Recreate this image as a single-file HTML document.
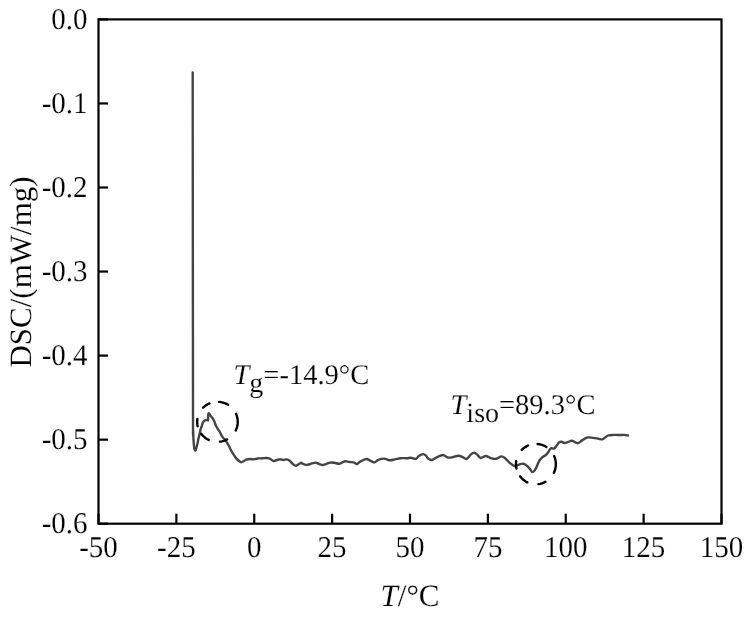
<!DOCTYPE html>
<html><head><meta charset="utf-8"><style>
html,body{margin:0;padding:0;background:#fff;width:751px;height:619px;overflow:hidden}
svg{position:absolute;left:0;top:0;will-change:transform}
text{font-family:"Liberation Serif",serif;font-size:29px;fill:#000;text-rendering:geometricPrecision;stroke:#fff;stroke-width:0.15px}
</style></head><body>
<svg width="751" height="619" viewBox="0 0 751 619">
<rect x="98.5" y="19.4" width="623.0" height="504.30000000000007" fill="none" stroke="#000" stroke-width="2.2"/>
<line x1="98.5" y1="19.40" x2="108.0" y2="19.40" stroke="#000" stroke-width="2.2"/>
<text transform="translate(87.6,28.60) scale(1,1.04)" text-anchor="end">0.0</text>
<line x1="98.5" y1="103.45" x2="108.0" y2="103.45" stroke="#000" stroke-width="2.2"/>
<text transform="translate(87.6,112.65) scale(1,1.04)" text-anchor="end">-0.1</text>
<line x1="98.5" y1="187.50" x2="108.0" y2="187.50" stroke="#000" stroke-width="2.2"/>
<text transform="translate(87.6,196.70) scale(1,1.04)" text-anchor="end">-0.2</text>
<line x1="98.5" y1="271.55" x2="108.0" y2="271.55" stroke="#000" stroke-width="2.2"/>
<text transform="translate(87.6,280.75) scale(1,1.04)" text-anchor="end">-0.3</text>
<line x1="98.5" y1="355.60" x2="108.0" y2="355.60" stroke="#000" stroke-width="2.2"/>
<text transform="translate(87.6,364.80) scale(1,1.04)" text-anchor="end">-0.4</text>
<line x1="98.5" y1="439.65" x2="108.0" y2="439.65" stroke="#000" stroke-width="2.2"/>
<text transform="translate(87.6,448.85) scale(1,1.04)" text-anchor="end">-0.5</text>
<line x1="98.5" y1="523.70" x2="108.0" y2="523.70" stroke="#000" stroke-width="2.2"/>
<text transform="translate(87.6,532.90) scale(1,1.04)" text-anchor="end">-0.6</text>
<line x1="98.50" y1="523.7" x2="98.50" y2="513.7" stroke="#000" stroke-width="2.2"/>
<text transform="translate(98.50,557.0) scale(1,1.04)" text-anchor="middle">-50</text>
<line x1="176.38" y1="523.7" x2="176.38" y2="513.7" stroke="#000" stroke-width="2.2"/>
<text transform="translate(176.38,557.0) scale(1,1.04)" text-anchor="middle">-25</text>
<line x1="254.25" y1="523.7" x2="254.25" y2="513.7" stroke="#000" stroke-width="2.2"/>
<text transform="translate(254.25,557.0) scale(1,1.04)" text-anchor="middle">0</text>
<line x1="332.12" y1="523.7" x2="332.12" y2="513.7" stroke="#000" stroke-width="2.2"/>
<text transform="translate(332.12,557.0) scale(1,1.04)" text-anchor="middle">25</text>
<line x1="410.00" y1="523.7" x2="410.00" y2="513.7" stroke="#000" stroke-width="2.2"/>
<text transform="translate(410.00,557.0) scale(1,1.04)" text-anchor="middle">50</text>
<line x1="487.88" y1="523.7" x2="487.88" y2="513.7" stroke="#000" stroke-width="2.2"/>
<text transform="translate(487.88,557.0) scale(1,1.04)" text-anchor="middle">75</text>
<line x1="565.75" y1="523.7" x2="565.75" y2="513.7" stroke="#000" stroke-width="2.2"/>
<text transform="translate(565.75,557.0) scale(1,1.04)" text-anchor="middle">100</text>
<line x1="643.62" y1="523.7" x2="643.62" y2="513.7" stroke="#000" stroke-width="2.2"/>
<text transform="translate(643.62,557.0) scale(1,1.04)" text-anchor="middle">125</text>
<line x1="721.50" y1="523.7" x2="721.50" y2="513.7" stroke="#000" stroke-width="2.2"/>
<text transform="translate(721.50,557.0) scale(1,1.04)" text-anchor="middle">150</text>
<path d="M192.70,72.40 C192.72,103.67 192.80,202.07 192.85,260.00 C192.90,317.93 192.94,391.45 193.00,420.00 C193.06,448.55 193.12,428.00 193.20,431.30 C193.28,434.60 193.36,437.25 193.50,439.80 C193.64,442.35 193.87,445.02 194.05,446.60 C194.23,448.18 194.41,448.65 194.60,449.30 C194.79,449.95 195.00,450.40 195.20,450.50 C195.40,450.60 195.62,450.27 195.80,449.90 C195.98,449.53 196.03,449.32 196.30,448.30 C196.57,447.28 197.02,445.50 197.40,443.80 C197.78,442.10 198.17,440.00 198.60,438.10 C199.03,436.20 199.67,433.88 200.00,432.40 C200.33,430.92 200.32,430.22 200.60,429.20 C200.88,428.18 201.30,427.47 201.70,426.30 C202.10,425.13 202.50,423.18 203.00,422.20 C203.50,421.22 204.10,420.77 204.70,420.40 C205.30,420.03 206.05,420.03 206.60,420.00 C207.15,419.97 207.75,420.77 208.00,420.20 C208.25,419.63 208.05,417.67 208.10,416.60 C208.15,415.53 208.13,414.32 208.30,413.80 C208.47,413.28 208.73,413.18 209.10,413.50 C209.47,413.82 210.02,415.02 210.50,415.70 C210.98,416.38 211.55,417.03 212.00,417.60 C212.45,418.17 212.80,418.45 213.20,419.10 C213.60,419.75 213.97,420.45 214.40,421.50 C214.83,422.55 215.23,424.18 215.80,425.40 C216.37,426.62 217.07,427.57 217.80,428.80 C218.53,430.03 219.42,431.47 220.20,432.80 C220.98,434.13 221.67,435.57 222.50,436.80 C223.33,438.03 224.43,439.20 225.20,440.20 C225.97,441.20 226.45,441.78 227.10,442.80 C227.75,443.82 228.40,444.97 229.10,446.30 C229.80,447.63 230.55,449.40 231.30,450.80 C232.05,452.20 232.73,453.40 233.60,454.70 C234.47,456.00 235.53,457.52 236.50,458.60 C237.47,459.68 238.60,460.60 239.40,461.20 C240.20,461.80 240.60,462.20 241.30,462.20 C242.00,462.20 242.78,461.62 243.60,461.20 C244.42,460.78 245.10,460.07 246.20,459.70 C247.30,459.33 248.93,459.05 250.20,459.00 C251.47,458.95 252.60,459.48 253.80,459.40 C255.00,459.32 256.20,458.67 257.40,458.50 C258.60,458.33 259.80,458.47 261.00,458.40 C262.20,458.33 263.40,458.15 264.60,458.10 C265.80,458.05 267.20,457.92 268.20,458.10 C269.20,458.28 269.67,458.72 270.60,459.20 C271.53,459.68 272.73,460.87 273.80,461.00 C274.87,461.13 275.95,460.28 277.00,460.00 C278.05,459.72 279.05,459.30 280.10,459.30 C281.15,459.30 282.17,459.98 283.30,460.00 C284.43,460.02 285.83,459.27 286.90,459.40 C287.97,459.53 288.70,460.03 289.70,460.80 C290.70,461.57 291.83,463.18 292.90,464.00 C293.97,464.82 294.77,465.90 296.10,465.70 C297.43,465.50 299.98,463.22 300.90,462.80 C301.82,462.38 300.68,462.85 301.60,463.20 C302.52,463.55 304.93,464.77 306.40,464.90 C307.87,465.03 308.87,464.38 310.40,464.00 C311.93,463.62 314.13,462.60 315.60,462.60 C317.07,462.60 318.00,463.60 319.20,464.00 C320.40,464.40 321.60,465.03 322.80,465.00 C324.00,464.97 325.13,464.20 326.40,463.80 C327.67,463.40 329.08,462.77 330.40,462.60 C331.72,462.43 332.85,462.60 334.30,462.80 C335.75,463.00 337.77,463.87 339.10,463.80 C340.43,463.73 341.30,462.83 342.30,462.40 C343.30,461.97 343.90,461.27 345.10,461.20 C346.30,461.13 348.10,461.80 349.50,462.00 C350.90,462.20 352.30,462.07 353.50,462.40 C354.70,462.73 356.03,463.77 356.70,464.00 C357.37,464.23 356.85,464.23 357.50,463.80 C358.15,463.37 359.15,462.20 360.60,461.40 C362.05,460.60 364.60,459.13 366.20,459.00 C367.80,458.87 368.80,460.03 370.20,460.60 C371.60,461.17 373.27,462.53 374.60,462.40 C375.93,462.27 376.60,460.43 378.20,459.80 C379.80,459.17 382.35,458.53 384.20,458.60 C386.05,458.67 387.52,460.07 389.30,460.20 C391.08,460.33 393.03,459.73 394.90,459.40 C396.77,459.07 398.50,458.40 400.50,458.20 C402.50,458.00 405.17,458.27 406.90,458.20 C408.63,458.13 409.38,457.70 410.90,457.80 C412.42,457.90 414.68,459.10 416.00,458.80 C417.32,458.50 417.60,456.78 418.80,456.00 C420.00,455.22 422.00,454.17 423.20,454.10 C424.40,454.03 425.13,454.82 426.00,455.60 C426.87,456.38 427.40,458.07 428.40,458.80 C429.40,459.53 430.67,460.20 432.00,460.00 C433.33,459.80 434.62,458.43 436.40,457.60 C438.18,456.77 440.72,455.00 442.70,455.00 C444.68,455.00 446.57,457.27 448.30,457.60 C450.03,457.93 451.37,457.32 453.10,457.00 C454.83,456.68 457.10,455.67 458.70,455.70 C460.30,455.73 461.37,456.67 462.70,457.20 C464.03,457.73 465.32,459.37 466.70,458.90 C468.08,458.43 469.75,455.42 471.00,454.40 C472.25,453.38 473.20,452.80 474.20,452.80 C475.20,452.80 475.93,453.53 477.00,454.40 C478.07,455.27 479.13,457.73 480.60,458.00 C482.07,458.27 484.13,456.00 485.80,456.00 C487.47,456.00 488.87,457.53 490.60,458.00 C492.33,458.47 494.42,459.07 496.20,458.80 C497.98,458.53 499.85,456.53 501.30,456.40 C502.75,456.27 503.50,456.93 504.90,458.00 C506.30,459.07 508.10,461.47 509.70,462.80 C511.30,464.13 512.95,465.70 514.50,466.00 C516.05,466.30 517.52,465.00 519.00,464.60 C520.48,464.20 522.07,463.40 523.40,463.60 C524.73,463.80 525.87,464.85 527.00,465.80 C528.13,466.75 529.33,468.25 530.20,469.30 C531.07,470.35 531.47,471.90 532.20,472.10 C532.93,472.30 533.87,471.35 534.60,470.50 C535.33,469.65 535.87,468.52 536.60,467.00 C537.33,465.48 538.07,463.00 539.00,461.40 C539.93,459.80 541.07,458.47 542.20,457.40 C543.33,456.33 544.75,455.93 545.80,455.00 C546.85,454.07 547.65,452.93 548.50,451.80 C549.35,450.67 549.97,448.73 550.90,448.20 C551.83,447.67 553.17,449.00 554.10,448.60 C555.03,448.20 555.70,446.80 556.50,445.80 C557.30,444.80 558.10,443.27 558.90,442.60 C559.70,441.93 560.37,441.73 561.30,441.80 C562.23,441.87 563.43,442.93 564.50,443.00 C565.57,443.07 566.63,442.57 567.70,442.20 C568.77,441.83 570.08,441.03 570.90,440.80 C571.72,440.57 571.45,440.40 572.60,440.80 C573.75,441.20 576.22,443.27 577.80,443.20 C579.38,443.13 580.52,441.35 582.10,440.40 C583.68,439.45 585.42,437.92 587.30,437.50 C589.18,437.08 591.52,437.70 593.40,437.90 C595.28,438.10 597.02,438.48 598.60,438.70 C600.18,438.92 601.32,439.73 602.90,439.20 C604.48,438.67 606.22,436.22 608.10,435.50 C609.98,434.78 612.18,434.98 614.20,434.90 C616.22,434.82 618.48,435.00 620.20,435.00 C621.92,435.00 623.20,434.82 624.50,434.90 C625.80,434.98 627.42,435.40 628.00,435.50" fill="none" stroke="#444" stroke-width="2.4" stroke-linejoin="round" stroke-linecap="round"/>
<path d="M236.08,413.86 L236.76,415.63 L237.27,417.47 L237.60,419.34 L237.74,421.23 L237.70,423.13 L237.49,425.02 L237.08,426.88 L236.51,428.69 L235.76,430.44 M227.14,439.38 L225.43,440.19 L223.66,440.84 L221.83,441.33 L219.96,441.65 M208.74,439.87 L207.03,438.96 L205.42,437.91 L203.91,436.70 L202.53,435.36 L201.28,433.89 M197.65,426.20 L197.32,424.40 L197.17,422.59 L197.18,420.76 L197.36,418.95 M203.05,407.71 L204.50,406.40 L206.07,405.24 L207.75,404.23 L209.52,403.39 M219.18,401.87 L221.08,402.12 L222.94,402.55 L224.76,403.14 L226.51,403.90 L228.18,404.82 " fill="none" stroke="#000" stroke-width="2.4" stroke-linecap="round"/>
<path d="M554.21,456.08 L554.88,457.87 L555.38,459.72 L555.70,461.61 L555.84,463.53 L555.81,465.45 L555.59,467.35 L555.20,469.23 L554.63,471.06 L553.89,472.83 M545.42,481.85 L543.74,482.67 L542.00,483.33 L540.20,483.82 L538.37,484.15 M527.34,482.35 L525.66,481.44 L524.07,480.37 L522.59,479.15 L521.23,477.79 L520.01,476.31 M516.44,468.54 L516.12,466.73 L515.97,464.89 L515.98,463.05 L516.15,461.22 M521.74,449.87 L523.17,448.55 L524.72,447.37 L526.37,446.36 L528.10,445.51 M537.60,443.97 L539.47,444.23 L541.30,444.65 L543.08,445.25 L544.80,446.02 L546.44,446.95 " fill="none" stroke="#000" stroke-width="2.4" stroke-linecap="round"/>
<text x="410" y="606" text-anchor="middle" style="font-size:31px"><tspan font-style="italic">T</tspan>/°C</text>
<text transform="translate(30.5,272) rotate(-90)" text-anchor="middle" style="font-size:31px">DSC/(mW/mg)</text>
<text x="233.5" y="384" style="font-size:28.5px"><tspan font-style="italic">T</tspan><tspan dy="7.5" style="font-size:28px">g</tspan><tspan dy="-7.5">=-14.9°C</tspan></text>
<text x="450.5" y="414" style="font-size:28.5px"><tspan font-style="italic">T</tspan><tspan dy="7.5" style="font-size:28px">iso</tspan><tspan dy="-7.5">=89.3°C</tspan></text>
</svg>
</body></html>
